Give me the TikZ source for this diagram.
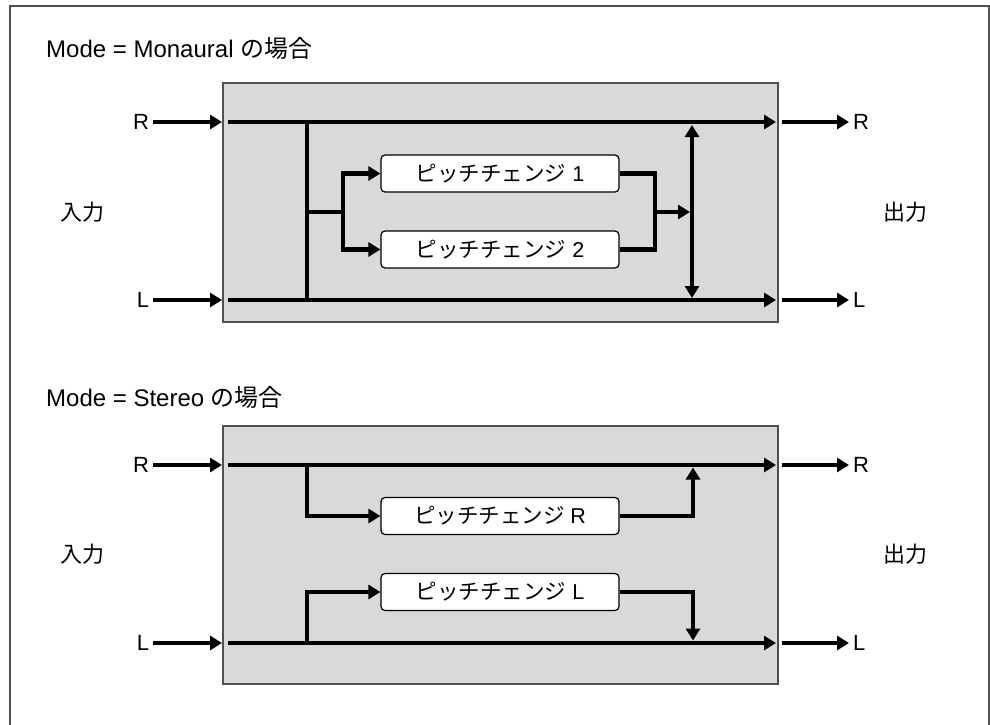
\documentclass[tikz,border=0pt]{standalone}
\usepackage{fontspec}
\setmainfont{Liberation Sans}
\newfontfamily\jp{Noto Sans CJK JP}
\usetikzlibrary{arrows.meta,calc}
\definecolor{boxgray}{RGB}{217,217,217}
\definecolor{edgegray}{RGB}{80,80,80}
\begin{document}
\begin{tikzpicture}[x=1pt,y=-1pt,
  font=\fontsize{22}{26}\selectfont,
  lab/.style={inner sep=0pt,outer sep=4pt},
  ttl/.style={inner sep=0pt,anchor=base west,font=\fontsize{24}{28}\selectfont},
  side/.style={inner sep=0pt,font=\fontsize{22}{26}\selectfont\jp},
  graybox/.style={draw=edgegray,line width=1.5pt,fill=boxgray,inner sep=0pt},
  pbox/.style={draw=black,line width=1.2pt,fill=white,rounded corners=4pt,minimum width=238pt,minimum height=37pt,inner sep=0pt,font=\fontsize{21.5}{25}\selectfont},
  wire/.style={line width=4.6pt},
  arr/.style={wire,-{Triangle[length=12pt,width=14pt]}},
  darr/.style={wire,{Triangle[length=12pt,width=14pt]}-{Triangle[length=12pt,width=14pt]}}]
\useasboundingbox (0,0) rectangle (990,725);
\draw[edgegray,line width=2pt] (9.5,730) -- (9.5,6.5) -- (988.5,6.5) -- (988.5,730);

% ---------- Monaural ----------
\node[ttl] (t1) at (46,58) {Mode = Monaural {\jp の場合}};
\node[graybox,anchor=north west,minimum width=555pt,minimum height=239pt] (box1) at (222,82) {};
\node[lab,anchor=east] (inR1) at (153,122) {R};
\node[lab,anchor=east] (inL1) at (153,300) {L};
\node[side] (in1) at (82,212) {入力};
\node[side] (out1) at (905,212) {出力};
\node[lab,anchor=west] (outR1) at (849,122) {R};
\node[lab,anchor=west] (outL1) at (849,300) {L};
\node[pbox] (p1) at (500,173.5) {{\jp ピッチチェンジ} 1};
\node[pbox] (p2) at (500,249.5) {{\jp ピッチチェンジ} 2};
\coordinate (r1s) at (228,122); \coordinate (r1e) at (776,122);
\coordinate (l1s) at (228,300); \coordinate (l1e) at (776,300);
\coordinate (bus1t) at (307,122); \coordinate (bus1b) at (307,300);
\coordinate (bj1) at (307,212); \coordinate (bs1) at (343,212);
\coordinate (mg1) at (655,212); \coordinate (mt1) at (690,212);
\coordinate (vt1) at (692,125); \coordinate (vb1) at (692,298);
\draw[arr] (inR1.east) -- (box1.west |- inR1);
\draw[arr] (inL1.east) -- (box1.west |- inL1);
\draw[arr] (r1s) -- (r1e);
\draw[arr] (l1s) -- (l1e);
\draw[arr] ($(box1.east |- outR1)+(3,0)$) -- (outR1.west);
\draw[arr] ($(box1.east |- outL1)+(3,0)$) -- (outL1.west);
\draw[wire] (bus1t) -- (bus1b);
\draw[wire] (bj1) -- (bs1);
\draw[arr] (bs1) |- (p1.west);
\draw[arr] (bs1) |- (p2.west);
\draw[wire] (p1.east) -| (mg1);
\draw[wire] (p2.east) -| (mg1);
\draw[arr] (mg1) -- (mt1);
\draw[darr] (vt1) -- (vb1);

% ---------- Stereo ----------
\node[ttl] (t2) at (46,406) {Mode = Stereo {\jp の場合}};
\node[graybox,anchor=north west,minimum width=555pt,minimum height=258pt] (box2) at (222,425) {};
\node[lab,anchor=east] (inR2) at (153,465) {R};
\node[lab,anchor=east] (inL2) at (153,643) {L};
\node[side] (in2) at (82,554) {入力};
\node[side] (out2) at (905,554) {出力};
\node[lab,anchor=west] (outR2) at (849,465) {R};
\node[lab,anchor=west] (outL2) at (849,643) {L};
\node[pbox] (pR) at (500,516) {{\jp ピッチチェンジ} R};
\node[pbox] (pL) at (500,592) {{\jp ピッチチェンジ} L};
\coordinate (r2s) at (228,465); \coordinate (r2e) at (776,465);
\coordinate (l2s) at (228,643); \coordinate (l2e) at (776,643);
\coordinate (brR) at (307,465); \coordinate (brL) at (307,643);
\coordinate (upR) at (693,467.5); \coordinate (dnL) at (693,640.5);
\draw[arr] (inR2.east) -- (box2.west |- inR2);
\draw[arr] (inL2.east) -- (box2.west |- inL2);
\draw[arr] (r2s) -- (r2e);
\draw[arr] (l2s) -- (l2e);
\draw[arr] ($(box2.east |- outR2)+(3,0)$) -- (outR2.west);
\draw[arr] ($(box2.east |- outL2)+(3,0)$) -- (outL2.west);
\draw[arr] (brR) |- (pR.west);
\draw[arr] (brL) |- (pL.west);
\draw[arr] (pR.east) -| (upR);
\draw[arr] (pL.east) -| (dnL);
\end{tikzpicture}
\end{document}
